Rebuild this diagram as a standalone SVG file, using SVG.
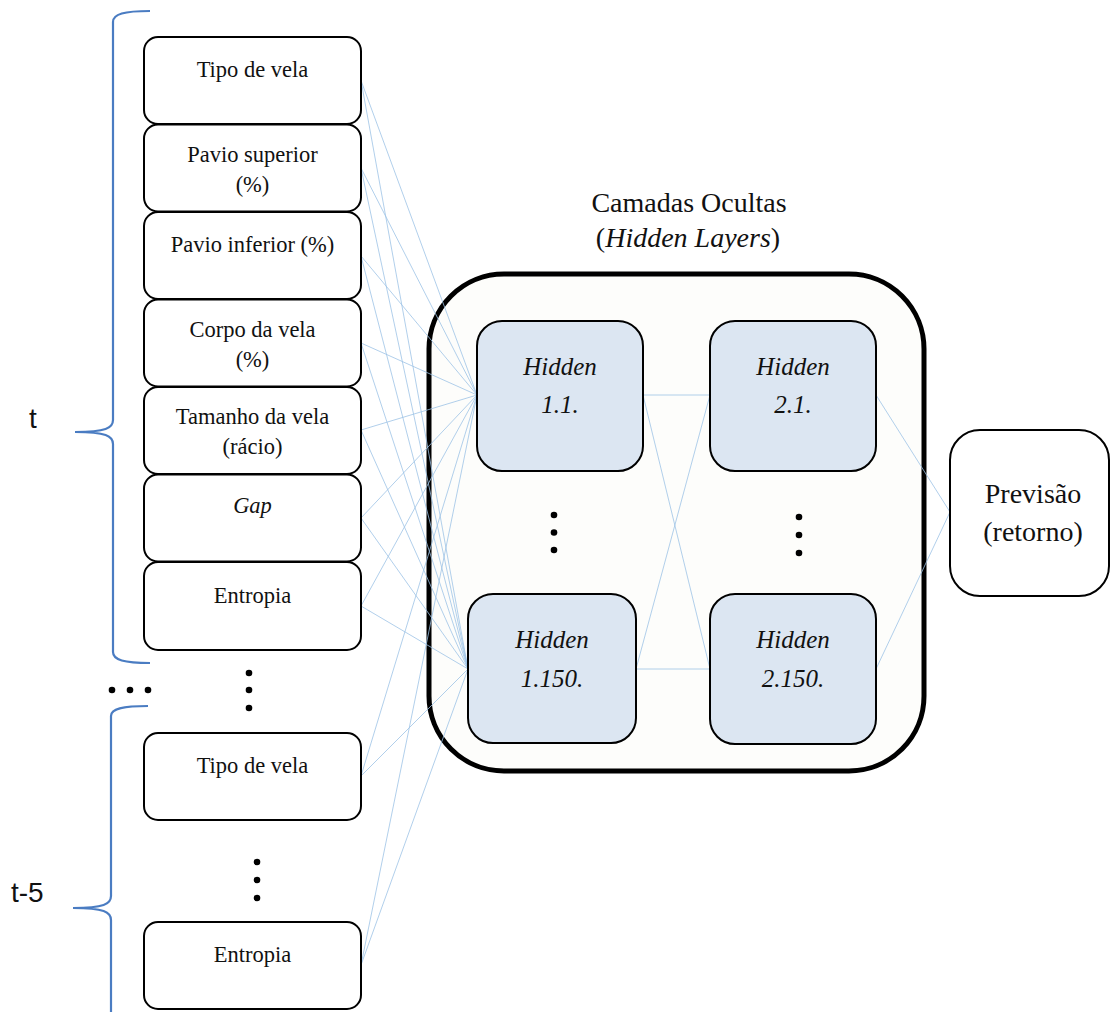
<svg xmlns="http://www.w3.org/2000/svg" width="1111" height="1012" viewBox="0 0 1111 1012">
<style>
.in{fill:#fff;stroke:#000;stroke-width:2}
.hid{fill:#DCE6F2;stroke:#000;stroke-width:2}
.t{font-family:"Liberation Serif","Times New Roman",serif;font-size:22.5px;fill:#111;text-anchor:middle}
.h{font-family:"Liberation Serif","Times New Roman",serif;font-size:25px;font-style:italic;fill:#111;text-anchor:middle}
.big{font-family:"Liberation Serif","Times New Roman",serif;font-size:28px;fill:#111;text-anchor:middle}
.lbl{font-family:"Liberation Sans",Arial,sans-serif;font-size:28px;fill:#111}
.br{fill:none;stroke:#4A7CC2;stroke-width:2.2}
.c line{stroke:#9DC3E6;stroke-width:0.8}
.dot{fill:#000}
</style>
<rect width="1111" height="1012" fill="#fff"/>
<g id="hidden-layers">
<rect x="429" y="274" width="495" height="497" rx="75" fill="#FDFDFB" stroke="#000" stroke-width="5"/>
</g>
<g id="connectors" class="c">
<line x1="361" y1="80.5" x2="477" y2="395"/>
<line x1="361" y1="168" x2="477" y2="395"/>
<line x1="361" y1="256" x2="477" y2="395"/>
<line x1="361" y1="343" x2="477" y2="395"/>
<line x1="361" y1="430" x2="477" y2="395"/>
<line x1="361" y1="518" x2="477" y2="395"/>
<line x1="361" y1="606" x2="477" y2="395"/>
<line x1="361" y1="776" x2="477" y2="395"/>
<line x1="361" y1="965" x2="477" y2="395"/>
<line x1="361" y1="80.5" x2="468" y2="669"/>
<line x1="361" y1="168" x2="468" y2="669"/>
<line x1="361" y1="256" x2="468" y2="669"/>
<line x1="361" y1="343" x2="468" y2="669"/>
<line x1="361" y1="430" x2="468" y2="669"/>
<line x1="361" y1="518" x2="468" y2="669"/>
<line x1="361" y1="606" x2="468" y2="669"/>
<line x1="361" y1="776" x2="468" y2="669"/>
<line x1="361" y1="965" x2="468" y2="669"/>
<line x1="643" y1="395" x2="710" y2="395"/>
<line x1="643" y1="395" x2="710" y2="669"/>
<line x1="636" y1="669" x2="710" y2="395"/>
<line x1="636" y1="669" x2="710" y2="669"/>
<line x1="876" y1="395" x2="950" y2="512"/>
<line x1="876" y1="669" x2="950" y2="512"/>
</g>
<g id="title">
<text class="big" x="689" y="212">Camadas Ocultas</text>
<text class="big" x="688" y="247">(<tspan font-style="italic">Hidden Layers</tspan>)</text>
</g>
<g id="in1"><rect class="in" x="144" y="37" width="217" height="87" rx="14"/><text class="t" x="252.5" y="77">Tipo de vela</text></g>
<g id="in2"><rect class="in" x="144" y="124.5" width="217" height="87" rx="14"/><text class="t" x="252.5" y="162">Pavio superior</text><text class="t" x="252.5" y="192">(%)</text></g>
<g id="in3"><rect class="in" x="144" y="212" width="217" height="87" rx="14"/><text class="t" x="252.5" y="252">Pavio inferior (%)</text></g>
<g id="in4"><rect class="in" x="144" y="299.5" width="217" height="87" rx="14"/><text class="t" x="252.5" y="337">Corpo da vela</text><text class="t" x="252.5" y="367">(%)</text></g>
<g id="in5"><rect class="in" x="144" y="387" width="217" height="87" rx="14"/><text class="t" x="252.5" y="424">Tamanho da vela</text><text class="t" x="252.5" y="454">(rácio)</text></g>
<g id="in6"><rect class="in" x="144" y="474.5" width="217" height="87" rx="14"/><text class="t" x="252.5" y="513" font-style="italic" font-size="21px">Gap</text></g>
<g id="in7"><rect class="in" x="144" y="562" width="217" height="88" rx="14"/><text class="t" x="252.5" y="603">Entropia</text></g>
<g id="in8"><rect class="in" x="144" y="733" width="217" height="87" rx="14"/><text class="t" x="252.5" y="773">Tipo de vela</text></g>
<g id="in9"><rect class="in" x="144" y="922" width="217" height="87" rx="14"/><text class="t" x="252.5" y="962">Entropia</text></g>
<g id="h11"><rect class="hid" x="477" y="321" width="166" height="150" rx="25"/><text class="h" x="560" y="375">Hidden</text><text class="h" x="560" y="413">1.1.</text></g>
<g id="h21"><rect class="hid" x="710" y="321" width="166" height="150" rx="25"/><text class="h" x="793" y="375">Hidden</text><text class="h" x="793" y="413">2.1.</text></g>
<g id="h1150"><rect class="hid" x="468" y="594" width="168" height="149" rx="25"/><text class="h" x="552" y="648">Hidden</text><text class="h" x="552" y="687">1.150.</text></g>
<g id="h2150"><rect class="hid" x="710" y="594" width="166" height="150" rx="25"/><text class="h" x="793" y="648">Hidden</text><text class="h" x="793" y="687">2.150.</text></g>
<g id="out"><rect class="in" x="950" y="430" width="159" height="166" rx="30"/><text class="big" x="1033" y="503">Previsão</text><text class="big" x="1033" y="541">(retorno)</text></g>
<g id="dots">
<circle class="dot" cx="554" cy="515" r="3.3"/><circle class="dot" cx="554" cy="532.5" r="3.3"/><circle class="dot" cx="554" cy="550" r="3.3"/>
<circle class="dot" cx="799" cy="517" r="3.3"/><circle class="dot" cx="799" cy="535" r="3.3"/><circle class="dot" cx="799" cy="553" r="3.3"/>
<circle class="dot" cx="249" cy="673" r="3.3"/><circle class="dot" cx="249" cy="690" r="3.3"/><circle class="dot" cx="249" cy="708" r="3.3"/>
<circle class="dot" cx="112" cy="690" r="3.3"/><circle class="dot" cx="130" cy="690" r="3.3"/><circle class="dot" cx="148" cy="690" r="3.3"/>
<circle class="dot" cx="257" cy="862" r="3.3"/><circle class="dot" cx="257" cy="880" r="3.3"/><circle class="dot" cx="257" cy="898" r="3.3"/>
</g>
<g id="brace-t">
<path class="br" d="M150,11 C124,11 113,14 113,22 L113,420 C113,428 106,432 75,432 C106,432 113,436 113,444 L113,652 C113,660 124,663 150,663"/>
<text class="lbl" x="29" y="428">t</text>
</g>
<g id="brace-t5">
<path class="br" d="M148,706 C122,706 111,709 111,716 L111,896 C111,904 104,908 73,908 C104,908 111,912 111,920 L111,1012"/>
<text class="lbl" x="11" y="902">t-5</text>
</g>
</svg>
